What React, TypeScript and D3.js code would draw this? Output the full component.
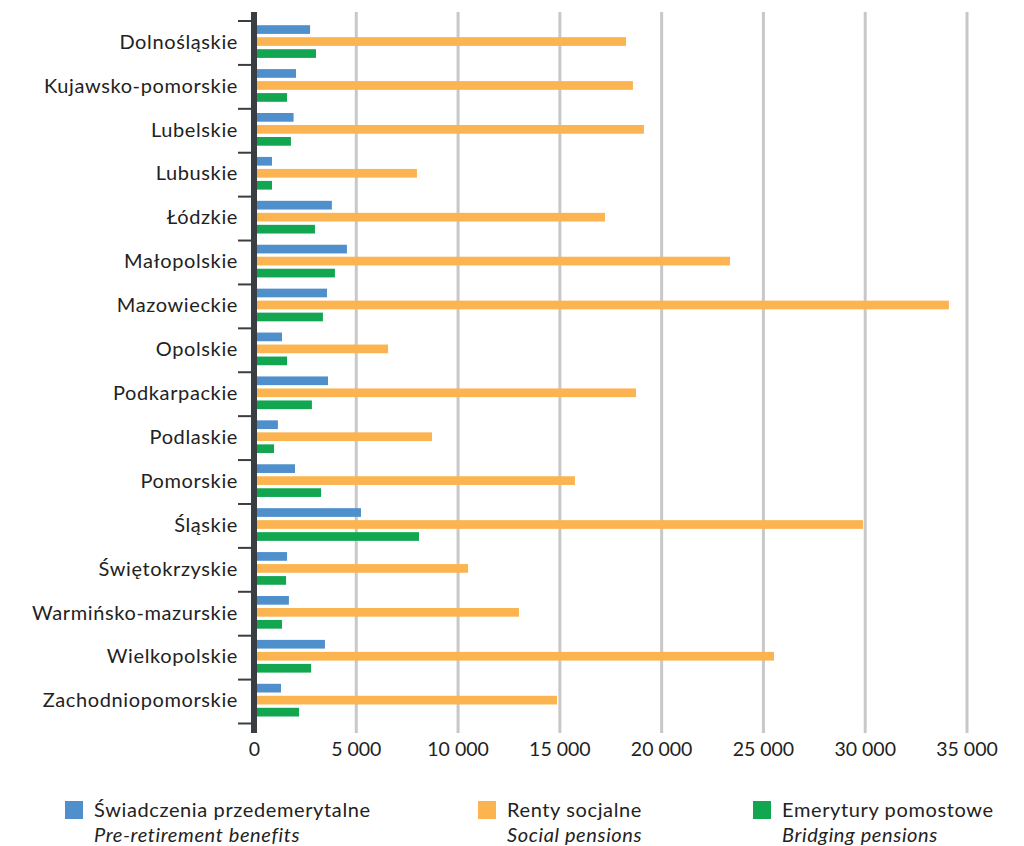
import * as d3 from 'd3';
import { useEffect, useRef } from "react";

const regions = [
    'Dolnośląskie', 'Kujawsko-pomorskie', 'Lubelskie', 'Lubuskie', 'Łódzkie',
    'Małopolskie', 'Mazowieckie', 'Opolskie', 'Podkarpackie', 'Podlaskie',
    'Pomorskie', 'Śląskie', 'Świętokrzyskie', 'Warmińsko-mazurskie',
    'Wielkopolskie', 'Zachodniopomorskie',
];

const preRetirement = [2730, 2040, 1920, 860, 3800, 4540, 3560, 1350, 3610, 1150, 1990, 5230, 1600, 1690, 3460, 1300];
const socialPensions = [18250, 18590, 19130, 7980, 17220, 23360, 34110, 6560, 18740, 8720, 15740, 29890, 10490, 12990, 25520, 14860];
const bridgingPensions = [3020, 1600, 1790, 860, 2970, 3950, 3360, 1600, 2820, 960, 3270, 8080, 1550, 1350, 2780, 2190];

const seriesKeys = ['pre', 'social', 'bridging'];
const seriesNames = ['Świadczenia przedemerytalne', 'Renty socjalne', 'Emerytury pomostowe'];
const seriesNamesEn = ['Pre-retirement benefits', 'Social pensions', 'Bridging pensions'];
const xTicks = [0, 5000, 10000, 15000, 20000, 25000, 30000, 35000];

const colors: Record<string, string> = {
    pre: '#4f8fcc',
    social: '#fbb44f',
    bridging: '#12a650',
};

const WIDTH = 1024;
const HEIGHT = 846;
const AXIS_COLOR = '#3a3d41';
const FONT = 'Lato, "Open Sans", sans-serif';
const LABEL_SIZE = 20;
const LABEL_SPACING = 0.62; // source font runs wider than local Lato

export default function App() {
    const ref = useRef<SVGSVGElement>(null);

    useEffect(() => {
        if (!ref.current) return;
        const svg = d3.select(ref.current);
        svg.selectAll("*").remove();

        const values: Record<string, number[]> = {
            pre: preRetirement,
            social: socialPensions,
            bridging: bridgingPensions,
        };

        const x = d3.scaleLinear().domain([0, 35000]).range([254.5, 967]);
        const y = d3.scaleBand<string>().domain(regions).range([21, 723.5]).padding(0);
        const inner = d3.scaleBand<string>().domain(seriesKeys)
            .range([4.2, 36.9]).paddingInner(0.275).paddingOuter(0);

        const locale = d3.formatLocale({ decimal: ',', thousands: ' ', grouping: [3], currency: ['', ''] });
        const fmt = locale.format(',d');

        // grid
        svg.append('g')
            .selectAll('line')
            .data(xTicks.slice(1))
            .enter()
            .append('line')
            .attr('x1', d => x(d))
            .attr('x2', d => x(d))
            .attr('y1', 12)
            .attr('y2', 733)
            .attr('stroke', '#c8c8c8')
            .attr('stroke-width', 3);

        // bars
        const rows = svg.append('g')
            .selectAll('g')
            .data(regions)
            .enter()
            .append('g')
            .attr('transform', d => `translate(0, ${y(d)})`);

        rows.selectAll('rect')
            .data((_, i) => seriesKeys.map(k => ({ key: k, value: values[k][i] })))
            .enter()
            .append('rect')
            .attr('x', x(0))
            .attr('y', d => inner(d.key)!)
            .attr('width', d => x(d.value) - x(0))
            .attr('height', inner.bandwidth())
            .attr('fill', d => colors[d.key]);

        // category labels
        rows.append('text')
            .attr('x', 238)
            .attr('y', inner('social')! + inner.bandwidth() / 2)
            .attr('dy', '0.36em')
            .attr('text-anchor', 'end')
            .attr('font-family', FONT)
            .attr('font-size', LABEL_SIZE)
            .attr('letter-spacing', LABEL_SPACING)
            .attr('fill', '#222')
            .text(d => d);

        // category ticks
        svg.append('g')
            .selectAll('line')
            .data(d3.range(regions.length + 1))
            .enter()
            .append('line')
            .attr('x1', 238)
            .attr('x2', 252)
            .attr('y1', i => 21 + i * y.step())
            .attr('y2', i => 21 + i * y.step())
            .attr('stroke', AXIS_COLOR)
            .attr('stroke-width', 2);

        // vertical axis line
        svg.append('line')
            .attr('x1', 254)
            .attr('x2', 254)
            .attr('y1', 12)
            .attr('y2', 733)
            .attr('stroke', AXIS_COLOR)
            .attr('stroke-width', 6);

        // x tick labels
        svg.append('g')
            .selectAll('text')
            .data(xTicks)
            .enter()
            .append('text')
            .attr('x', d => x(d))
            .attr('y', 755.5)
            .attr('text-anchor', 'middle')
            .attr('font-family', FONT)
            .attr('font-size', 19.5)
            .attr('fill', '#222')
            .text(d => fmt(d));

        // legend
        const legendX = [65, 478, 753];
        const legend = svg.append('g')
            .selectAll('g')
            .data(seriesKeys)
            .enter()
            .append('g')
            .attr('transform', (_, i) => `translate(${legendX[i]}, 801)`);

        legend.append('rect')
            .attr('width', 18)
            .attr('height', 18)
            .attr('fill', d => colors[d]);

        legend.append('text')
            .attr('x', 29)
            .attr('y', 16)
            .attr('font-family', FONT)
            .attr('font-size', LABEL_SIZE)
            .attr('letter-spacing', LABEL_SPACING)
            .attr('fill', '#222')
            .text((_, i) => seriesNames[i]);

        legend.append('text')
            .attr('x', 29)
            .attr('y', 41)
            .attr('font-family', FONT)
            .attr('font-size', LABEL_SIZE)
            .attr('letter-spacing', LABEL_SPACING)
            .attr('font-style', 'italic')
            .attr('fill', '#222')
            .text((_, i) => seriesNamesEn[i]);
    }, []);

    return (
        <svg ref={ref} width={WIDTH} height={HEIGHT}
            style={{ position: 'absolute', left: 0, top: 0, background: '#fff' }}></svg>
    );
}
